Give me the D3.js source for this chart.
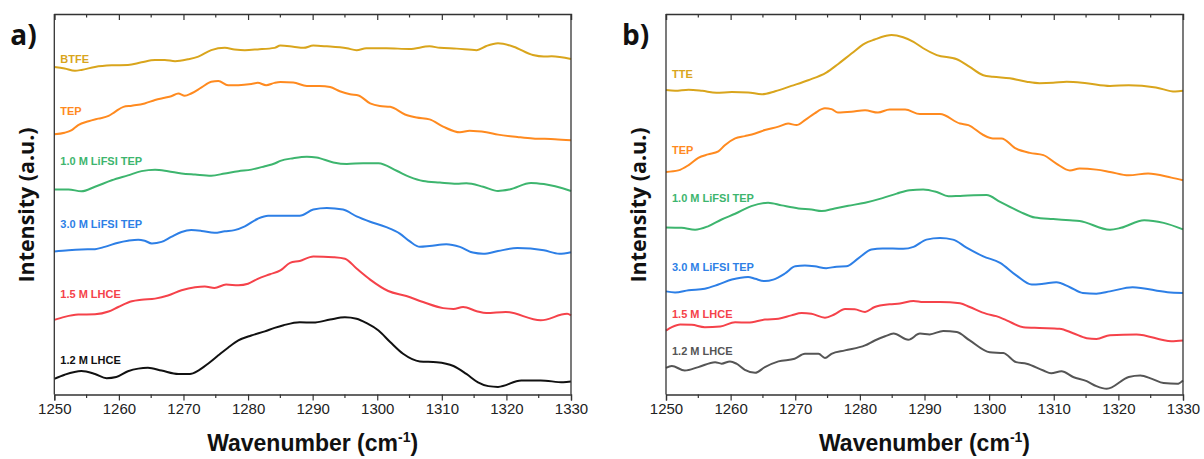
<!DOCTYPE html>
<html>
<head>
<meta charset="utf-8">
<script src="https://cdn.jsdelivr.net/npm/d3@7"></script>
<style>
  body { margin: 0; background: #fff; }
  svg { display: block; }
</style>
</head>
<body>
<div id="chart-area"></div>
<script>
// data: [wavenumber, stacked intensity (a.u.)]
var xTicks = [1250, 1260, 1270, 1280, 1290, 1300, 1310, 1320, 1330];

var aBTFE = [[1250,86.1],[1251.6,85.7],[1253.2,85.1],[1254.2,85.3],[1256.3,86.1],[1258.9,86.5],[1261.4,86.6],[1263.5,87.3],[1265.6,87.9],[1267.1,87.9],[1268.7,87.6],[1270.7,88.1],[1272.3,88.8],[1274.3,90.5],[1276.4,91.1],[1277.9,90.7],[1279.5,90.5],[1281.5,90.7],[1284.1,91.1],[1285.0,91.7],[1287.0,91.4],[1288.6,91.1],[1290.1,91.7],[1292.2,91.5],[1295.3,91.0],[1296.8,90.5],[1298.3,91.0],[1301.4,91.0],[1305.0,90.8],[1308.1,91.5],[1309.7,91.1],[1312.3,90.9],[1315.4,90.5],[1316.9,91.6],[1318.7,92.3],[1321.1,91.4],[1324.1,89.2],[1325.8,88.8],[1327.0,88.9],[1330,88.2]];
var aTEP = [[1250,68.4],[1251.6,68.8],[1252.7,69.5],[1253.7,70.8],[1255.3,71.8],[1256.8,72.5],[1258.4,73.2],[1259.4,74.3],[1260.7,75.6],[1262.0,75.9],[1264.0,76.5],[1265.6,77.4],[1267.1,78.0],[1268.1,78.4],[1269.2,79.1],[1270.2,78.5],[1271.2,79.1],[1272.8,80.7],[1274.3,82.2],[1275.4,82.4],[1276.9,81.3],[1278.5,81.3],[1280.5,81.6],[1281.5,81.9],[1282.8,81.3],[1284.1,81.9],[1285.0,82.1],[1287.0,82.0],[1289.1,81.1],[1291.1,81.1],[1292.7,80.8],[1294.2,79.7],[1295.8,78.9],[1297.1,78.6],[1298.9,76.5],[1300.4,75.8],[1302.0,75.6],[1304.3,73.6],[1306.1,72.8],[1308.1,72.3],[1310.2,70.4],[1312.8,68.9],[1314.3,69.3],[1316.9,68.9],[1318.7,68.3],[1321.7,67.7],[1324.1,67.3],[1327.5,67.1],[1330,66.8]];
var aLi10 = [[1250,53.9],[1252.2,53.9],[1254.2,53.4],[1256.3,54.6],[1258.9,56.3],[1261.4,57.6],[1263.5,58.7],[1265.6,59.1],[1267.6,58.7],[1269.7,58.1],[1271.8,57.8],[1274.3,57.5],[1276.4,58.1],[1278.5,58.7],[1280.5,59.1],[1282.6,60.0],[1284.1,60.7],[1285.0,61.4],[1287.0,62.1],[1289.1,62.5],[1290.6,62.3],[1293.2,61.0],[1295.3,60.6],[1297.8,60.8],[1300.2,60.8],[1303.0,58.8],[1305.0,57.2],[1307.1,56.1],[1309.7,55.7],[1312.3,55.4],[1313.8,55.5],[1316.4,54.6],[1318.7,53.5],[1320.5,53.9],[1323.8,55.6],[1325.8,55.3],[1330,53.5]];
var aLi30 = [[1250,37.6],[1252.2,37.9],[1254.2,38.1],[1256.3,38.2],[1257.8,38.8],[1259.9,39.9],[1261.4,40.4],[1263.0,40.7],[1264.0,40.4],[1265.1,39.7],[1266.6,40.1],[1268.1,41.4],[1269.7,42.7],[1271.2,43.2],[1272.8,43.0],[1274.8,42.5],[1276.4,42.9],[1277.9,43.2],[1279.5,44.2],[1281.5,46.2],[1283.1,47.0],[1288.0,47.0],[1290.1,48.6],[1292.2,49.0],[1294.7,48.6],[1296.8,46.8],[1298.9,45.4],[1301.4,44.0],[1303.5,42.3],[1305.0,40.3],[1306.6,38.8],[1308.1,39.0],[1310.7,39.5],[1312.8,38.8],[1314.8,37.3],[1316.4,37.0],[1318.7,37.7],[1321.7,38.5],[1325.8,37.9],[1328.2,37.0],[1330,37.4]];
var aLH15 = [[1250,19.6],[1251.6,20.4],[1253.7,21.0],[1256.3,21.1],[1258.4,21.8],[1259.9,23.0],[1262.0,24.5],[1263.5,24.9],[1265.6,25.2],[1267.6,26.0],[1269.7,27.4],[1271.8,28.2],[1273.3,28.4],[1274.8,28.0],[1276.6,28.9],[1278.5,28.7],[1280.0,29.1],[1281.5,30.4],[1283.4,31.6],[1285.0,32.6],[1286.5,34.6],[1288.0,35.1],[1290.1,36.3],[1293.2,36.1],[1295.0,35.7],[1296.8,33.1],[1298.9,30.2],[1301.7,27.2],[1304.5,25.9],[1307.1,24.3],[1310.2,22.7],[1311.8,22.5],[1313.3,23.0],[1315.4,21.9],[1316.9,21.4],[1319.9,21.7],[1325.3,19.5],[1329.4,21.2],[1330,20.8]];
var aLH12 = [[1250,4.1],[1251.6,5.2],[1254.2,6.2],[1256.3,5.4],[1258.1,4.3],[1259.6,4.6],[1261.4,6.1],[1263.0,6.8],[1264.5,7.0],[1266.6,6.3],[1269.2,5.4],[1271.0,5.4],[1272.3,6.3],[1273.8,8.1],[1275.4,10.3],[1276.9,12.3],[1278.5,14.2],[1280.5,15.5],[1282.6,16.6],[1284.1,17.5],[1285.5,18.2],[1288.0,19.0],[1290.1,18.9],[1292.7,19.7],[1295.0,20.3],[1296.8,19.9],[1298.3,18.8],[1300.2,16.8],[1302.0,13.8],[1304.0,10.7],[1306.6,8.7],[1309.2,8.5],[1311.8,7.5],[1313.8,5.4],[1315.6,3.2],[1317.2,2.2],[1318.7,2.0],[1322.3,3.7],[1325.3,3.7],[1328.8,3.2],[1330,3.4]];

var bTTE = [[1250,80.0],[1251.4,79.8],[1253.5,80.1],[1255.6,79.8],[1257.8,79.3],[1260.2,79.5],[1262.7,79.4],[1264.8,78.9],[1266.9,79.7],[1269.4,81.1],[1272.0,82.6],[1274.8,84.6],[1276.6,86.8],[1278.7,89.6],[1280.8,92.3],[1282.3,93.3],[1283.9,94.2],[1284.9,94.5],[1286.7,93.9],[1288.3,92.7],[1289.8,91.0],[1291.9,89.2],[1295.0,88.1],[1297.0,86.1],[1299.1,83.9],[1300.6,83.5],[1303.2,83.1],[1305.8,82.2],[1307.8,81.8],[1309.9,81.9],[1312.0,82.2],[1315.1,81.8],[1318.7,81.1],[1321.6,81.3],[1325.8,80.7],[1328.8,79.6],[1330,79.8]];
var bTEP = [[1250,58.5],[1251.9,58.9],[1253.5,60.3],[1255.0,62.2],[1256.5,63.1],[1258.1,63.9],[1259.1,65.5],[1260.7,67.3],[1262.2,67.9],[1263.8,68.6],[1265.3,69.5],[1267.4,70.4],[1268.9,71.2],[1270.2,70.8],[1271.5,72.1],[1273.0,73.9],[1274.6,75.2],[1275.6,75.0],[1276.6,74.1],[1278.7,74.3],[1280.8,74.7],[1282.8,74.1],[1284.6,74.9],[1287.0,74.9],[1289.3,73.7],[1292.4,73.7],[1295.5,71.2],[1296.8,70.8],[1299.1,68.2],[1300.6,67.3],[1301.9,67.3],[1304.2,64.6],[1306.3,63.5],[1308.4,62.9],[1310.4,60.7],[1312.5,58.9],[1314.0,59.4],[1316.6,59.1],[1318.7,58.5],[1321.6,57.6],[1324.6,58.1],[1328.2,57.0],[1330,56.3]];
var bLi10 = [[1250,43.9],[1252.4,43.8],[1254.5,43.3],[1256.5,44.2],[1258.6,46.0],[1260.7,47.5],[1263.2,49.5],[1265.8,50.4],[1267.9,49.7],[1270.5,48.9],[1272.5,48.6],[1274.1,48.2],[1276.1,48.9],[1278.2,49.6],[1280.8,50.4],[1283.5,51.6],[1285.7,52.8],[1287.7,53.7],[1289.8,53.9],[1291.9,53.2],[1293.7,52.1],[1295.5,52.2],[1299.6,52.4],[1301.7,50.6],[1304.8,48.0],[1307.1,46.5],[1309.9,46.1],[1312.5,45.8],[1314.0,45.6],[1318.7,43.3],[1320.4,43.8],[1324.0,45.8],[1327.0,45.1],[1330,43.4]];
var bLi30 = [[1250,27.1],[1251.4,26.8],[1253.5,27.4],[1256.0,27.8],[1258.1,28.9],[1260.2,30.2],[1262.7,30.9],[1263.8,30.4],[1265.3,29.8],[1266.6,30.2],[1268.4,31.8],[1270.0,33.7],[1271.5,33.9],[1273.0,33.7],[1274.8,33.2],[1276.4,33.6],[1277.9,33.7],[1279.7,35.7],[1281.8,38.1],[1283.5,38.4],[1286.7,38.3],[1288.3,38.8],[1290.3,40.7],[1292.4,41.1],[1294.4,40.7],[1296.5,38.6],[1299.1,36.3],[1301.7,34.6],[1304.2,31.3],[1306.6,28.9],[1308.4,29.1],[1310.4,29.5],[1312.5,28.2],[1314.5,26.7],[1316.6,26.5],[1318.7,27.1],[1322.2,28.2],[1327.6,26.9],[1330,26.7]];
var bLH15 = [[1250,16.8],[1250.9,17.7],[1252.2,18.4],[1254.0,18.3],[1256.0,17.7],[1258.4,17.9],[1260.7,19.0],[1262.7,18.9],[1265.3,19.7],[1267.4,19.9],[1269.4,20.8],[1271.0,21.4],[1272.5,21.2],[1274.6,20.2],[1276.1,21.1],[1277.7,22.5],[1279.2,22.4],[1280.8,21.7],[1282.3,23.0],[1284.6,23.7],[1286.2,23.9],[1288.3,24.6],[1289.8,24.3],[1292.4,24.3],[1295.5,24.0],[1297.0,23.0],[1299.6,21.2],[1301.1,20.6],[1302.7,19.5],[1305.3,17.7],[1307.8,17.5],[1310.9,17.3],[1313.0,16.1],[1315.1,14.8],[1316.6,14.6],[1318.7,15.6],[1322.8,15.8],[1328.2,14.0],[1330,14.2]];
var bLH12 = [[1250,7.0],[1250.9,7.5],[1252.9,6.3],[1255.0,7.2],[1257.6,8.5],[1258.6,8.1],[1259.9,8.7],[1260.9,8.1],[1262.2,6.5],[1263.8,5.7],[1265.3,7.2],[1267.4,8.7],[1269.9,9.4],[1271.5,10.7],[1273.6,10.7],[1274.6,9.6],[1275.6,10.7],[1277.7,11.6],[1280.8,12.9],[1282.3,14.2],[1283.9,15.3],[1285.2,16.0],[1287.5,14.4],[1289.3,16.0],[1290.8,15.8],[1292.9,16.7],[1295.0,16.4],[1297.0,14.2],[1300.1,11.1],[1302.2,10.9],[1304.2,8.5],[1305.8,8.1],[1308.4,6.3],[1309.6,5.6],[1311.2,6.1],[1313.0,4.6],[1315.1,3.5],[1316.6,2.2],[1318.2,1.5],[1321.6,4.6],[1323.4,5.0],[1325.2,4.1],[1327.0,3.0],[1329.1,2.8],[1330,3.7]];

var namesA = ["BTFE", "TEP", "1.0 M LiFSI TEP", "3.0 M LiFSI TEP", "1.5 M LHCE", "1.2 M LHCE"];
var namesB = ["TTE", "TEP", "1.0 M LiFSI TEP", "3.0 M LiFSI TEP", "1.5 M LHCE", "1.2 M LHCE"];
var colorsA = ["#D9A51C", "#FF8A1F", "#3DB56E", "#2D7FE6", "#F5424A", "#111111"];
var colorsB = ["#D9A51C", "#FF8A1F", "#3DB56E", "#2D7FE6", "#F5424A", "#555555"];
var labelYA = [87.0, 73.5, 60.3, 43.8, 25.3, 7.9];
var labelYB = [83.2, 63.2, 50.7, 32.4, 20.0, 10.3];

var arial = "Arial, 'Liberation Sans', Helvetica, sans-serif";
var width = 1204, height = 459;
var svg = d3.select("#chart-area").append("svg")
    .attr("width", width)
    .attr("height", height);

function panel(left, right, tag, series, names, colors, labelY) {
    var x = d3.scaleLinear().domain([1250, 1330]).range([left, right]);
    var y = d3.scaleLinear().domain([0, 100]).range([394.5, 14]);
    var g = svg.append("g");

    var line = d3.line()
        .x(d => x(d[0]))
        .y(d => y(d[1]))
        .curve(d3.curveMonotoneX);

    series.forEach((s, i) => {
        g.append("path")
            .datum(s)
            .attr("fill", "none")
            .attr("stroke", colors[i])
            .attr("stroke-width", 2)
            .attr("stroke-linejoin", "round")
            .attr("d", line);
        g.append("text")
            .attr("x", left + 6)
            .attr("y", y(labelY[i]))
            .style("font-family", arial)
            .attr("font-weight", "bold")
            .attr("font-size", "11px")
            .attr("fill", colors[i])
            .text(names[i]);
    });

    var minor = d3.range(1255, 1330, 10);
    // bottom axis, ticks pointing down
    var bottomAxis = d3.axisBottom(x).tickValues(xTicks).tickSize(6).tickPadding(3).tickFormat(d3.format("d"));
    var ax = g.append("g")
        .attr("transform", "translate(0," + 394.5 + ")")
        .call(bottomAxis);
    ax.select(".domain").attr("stroke", "#333").attr("stroke-width", 1.3);
    ax.selectAll(".tick line").attr("stroke", "#333").attr("stroke-width", 1.2);
    ax.selectAll("text")
        .style("font-family", arial)
        .attr("font-size", "15px")
        .attr("fill", "#222");
    ax.selectAll(".minor").data(minor).enter().append("line")
        .attr("x1", d => x(d)).attr("x2", d => x(d))
        .attr("y1", 0).attr("y2", 3.5)
        .attr("stroke", "#333").attr("stroke-width", 1.2);

    // top frame with inward ticks
    var topAxis = d3.axisBottom(x).tickValues(xTicks).tickSize(6).tickFormat("");
    var at = g.append("g")
        .attr("transform", "translate(0," + 14 + ")")
        .call(topAxis);
    at.select(".domain").attr("stroke", "#333").attr("stroke-width", 1.3);
    at.selectAll(".tick line").attr("stroke", "#333").attr("stroke-width", 1.2);
    at.selectAll(".minor").data(minor).enter().append("line")
        .attr("x1", d => x(d)).attr("x2", d => x(d))
        .attr("y1", 0).attr("y2", 3.5)
        .attr("stroke", "#333").attr("stroke-width", 1.2);

    g.append("line").attr("x1", left).attr("x2", left).attr("y1", 14).attr("y2", 394.5)
        .attr("stroke", "#333").attr("stroke-width", 1.3);
    g.append("line").attr("x1", right).attr("x2", right).attr("y1", 14).attr("y2", 394.5)
        .attr("stroke", "#333").attr("stroke-width", 1.3);

    var xl = g.append("text")
        .attr("x", (left + right) / 2)
        .attr("y", 451)
        .attr("text-anchor", "middle")
        .style("font-family", arial)
        .attr("font-weight", "bold")
        .attr("font-size", "23px")
        .attr("fill", "#111");
    xl.append("tspan").text("Wavenumber (cm");
    xl.append("tspan").attr("dy", -9).attr("font-size", "14px").text("-1");
    xl.append("tspan").attr("dy", 9).text(")");

    g.append("text")
        .attr("transform", "translate(" + (left - 20) + "," + 205 + ") rotate(-90)")
        .attr("text-anchor", "middle")
        .style("font-family", "'Open Sans', sans-serif")
        .attr("font-weight", "bold")
        .attr("font-size", "22px")
        .attr("textLength", 155)
        .attr("lengthAdjust", "spacingAndGlyphs")
        .attr("fill", "#111")
        .text("Intensity (a.u.)");

    g.append("text")
        .attr("x", left - 44)
        .attr("y", 45)
        .style("font-family", "'Open Sans', sans-serif")
        .attr("font-weight", "bold")
        .attr("font-size", "28px")
        .attr("fill", "#111")
        .text(tag);
}

panel(54.3, 571, "a)", [aBTFE, aTEP, aLi10, aLi30, aLH15, aLH12], namesA, colorsA, labelYA);
panel(666, 1183, "b)", [bTTE, bTEP, bLi10, bLi30, bLH15, bLH12], namesB, colorsB, labelYB);
</script>
</body>
</html>
